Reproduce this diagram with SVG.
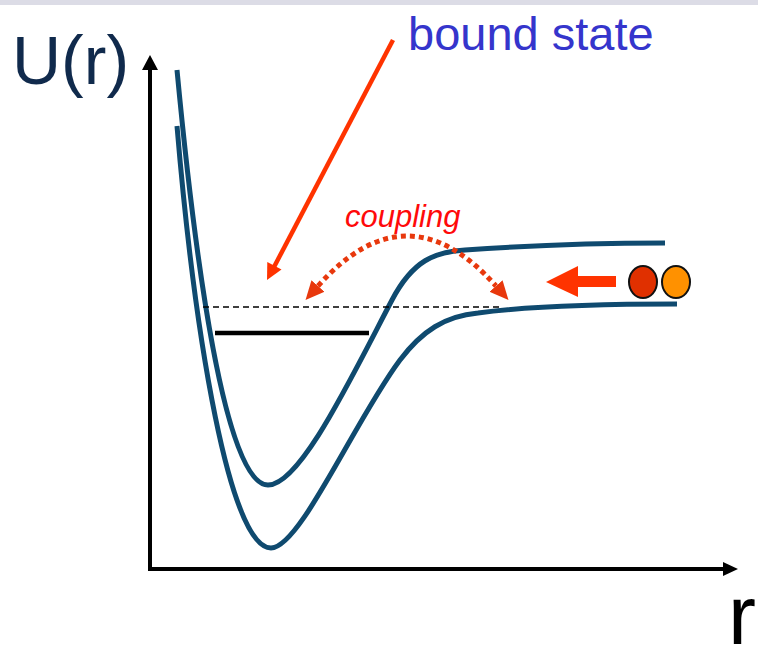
<svg xmlns="http://www.w3.org/2000/svg" width="758" height="646" viewBox="0 0 758 646">
<style>
.curve{fill:none;stroke:#0f4a6f;stroke-width:5;stroke-linecap:butt}
.axis{fill:none;stroke:#000;stroke-width:4}
.red{fill:#ff3300}
.lbl{font-family:"Liberation Sans",Arial,sans-serif}
</style>
<defs>
<marker id="ch" markerUnits="userSpaceOnUse" markerWidth="20" markerHeight="20" viewBox="0 -8 16 16" refX="0" refY="0" orient="auto-start-reverse">
<path d="M0,-7 L15,0 L0,7 z" fill="#e8380d"/>
</marker>
</defs>
<rect x="0" y="0" width="758" height="5" fill="#dcdce6"/>
<g id="axes">
<path class="axis" d="M150,569 L150,68 M148,569 L725,569"/>
<polygon points="150,55 142,70 158,70" fill="#000"/>
<polygon points="738,569 723,562 723,576" fill="#000"/>
</g>
<g id="curves">
<path class="curve" d="M177,70 C195,260 225,485 268,485 C300,485 350,380 392,300 C413,260 435,252 465,250 C520,246 600,243 665,243"/>
<path class="curve" d="M177,126 C195,340 230,548 271,548 C300,548 355,420 400,360 C422,331 445,316 478,313 C530,306 600,304 677,304"/>
</g>
<g id="levels">
<line x1="215" y1="333" x2="369" y2="333" stroke="#000" stroke-width="4.5"/>
<line x1="203" y1="307" x2="502" y2="307" stroke="#000" stroke-width="1.6" stroke-dasharray="6 4"/>
</g>
<g id="coupling">
<path d="M318,286 Q407,186 496,286" fill="none" stroke="#e8380d" stroke-width="5" stroke-dasharray="5 4" marker-start="url(#ch)" marker-end="url(#ch)"/>
<text class="lbl" x="345" y="227" font-size="31" font-style="italic" fill="#ff0a0a">coupling</text>
</g>
<g id="bound-arrow">
<line x1="393" y1="40" x2="274" y2="267" stroke="#ff3300" stroke-width="4.5"/>
<polygon class="red" points="267,280 281.5,269.5 267.3,262.1"/>
</g>
<g id="incoming">
<polygon class="red" points="546,282 578,266 578,276 616,276 616,287 578,287 578,297"/>
<ellipse cx="643" cy="282" rx="14" ry="16" fill="#e03000" stroke="#111" stroke-width="2"/>
<ellipse cx="676" cy="282" rx="14" ry="16" fill="#ff9100" stroke="#111" stroke-width="2"/>
</g>
<g id="labels">
<text class="lbl" x="408" y="50" font-size="47" fill="#3535cc">bound state</text>
<text class="lbl" x="12" y="84" font-size="68" fill="#102a4c">U(r)</text>
<text class="lbl" x="728" y="644" font-size="84" fill="#000">r</text>
</g>
</svg>
